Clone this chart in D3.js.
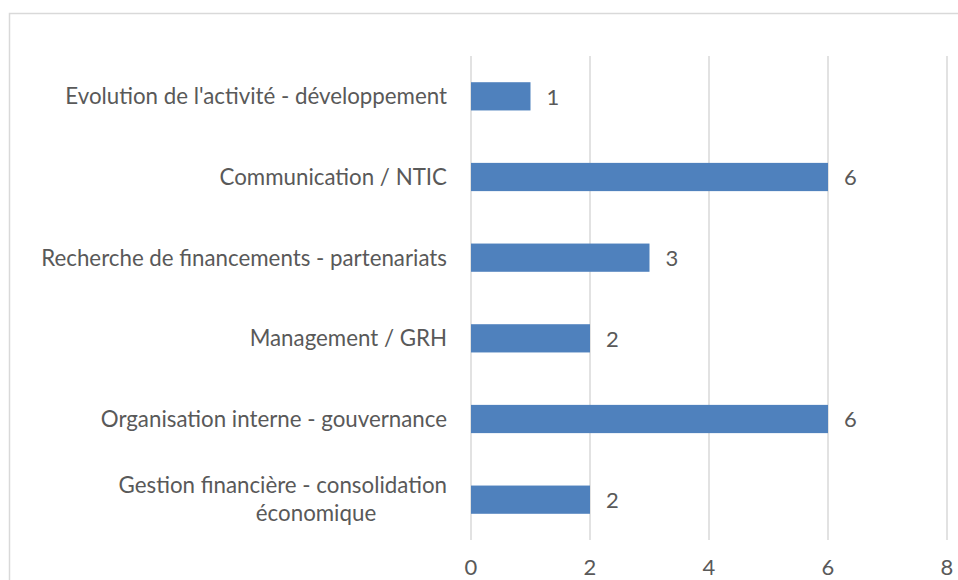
<!DOCTYPE html>
<html>
<head>
<meta charset="utf-8">
<title>Bar chart</title>
<script src="https://cdn.jsdelivr.net/npm/d3@7"></script>
<style>
  body { margin: 0; background: #fff; }
  text { font-family: Lato, "Open Sans", sans-serif; fill: #595959; }
</style>
</head>
<body>
<svg id="svg"></svg>
<script>
var WIDTH = 958;
var HEIGHT = 580;

// data, top to bottom
var categories = [
    ["Evolution de l'activité - développement"],
    ["Communication / NTIC"],
    ["Recherche de financements - partenariats"],
    ["Management / GRH"],
    ["Organisation interne - gouvernance"],
    ["Gestion financière - consolidation", "économique"]
];
var values = [1, 6, 3, 2, 6, 2];
var ticks = [0, 2, 4, 6, 8];

var svg = d3.select("#svg")
            .attr("width", WIDTH)
            .attr("height", HEIGHT);

// chart frame
svg.append("rect")
   .attr("x", 9.5).attr("y", 13.5)
   .attr("width", 960).attr("height", 600)
   .attr("fill", "none")
   .attr("stroke", "#d9d9d9")
   .attr("stroke-width", 1.5);

var xScale = d3.scaleLinear()
               .domain([0, 8])
               .range([471, 947]);
var yScale = d3.scaleBand()
               .domain(d3.range(categories.length))
               .range([56, 540])
               .paddingInner(0.65)
               .paddingOuter(0.325);

// gridlines
svg.selectAll("line.grid")
   .data(ticks)
   .enter()
   .append("line")
   .attr("class", "grid")
   .attr("x1", function(d){ return xScale(d); })
   .attr("x2", function(d){ return xScale(d); })
   .attr("y1", 56).attr("y2", 540)
   .attr("stroke", "#d9d9d9")
   .attr("stroke-width", 1.5);

// bars
svg.selectAll("rect.bar")
   .data(values)
   .enter()
   .append("rect")
   .attr("class", "bar")
   .attr("x", xScale(0))
   .attr("y", function(d, i){ return yScale(i); })
   .attr("width", function(d){ return xScale(d) - xScale(0); })
   .attr("height", yScale.bandwidth())
   .attr("fill", "#4f81bd");

// value labels
svg.selectAll("text.value")
   .data(values)
   .enter()
   .append("text")
   .attr("class", "value")
   .attr("x", function(d){ return xScale(d) + 16; })
   .attr("y", function(d, i){ return yScale(i) + yScale.bandwidth() / 2; })
   .attr("dy", "0.38em")
   .attr("font-size", "22px")
   .text(function(d){ return d; });

// category labels
var labels = svg.selectAll("text.cat")
   .data(categories)
   .enter()
   .append("text")
   .attr("class", "cat")
   .attr("font-size", "22.3px")
   .attr("y", function(d, i){ return yScale(i) + yScale.bandwidth() / 2; });

labels.each(function(lines){
    var t = d3.select(this);
    if (lines.length == 1) {
        t.append("tspan")
         .attr("x", 447)
         .attr("text-anchor", "end")
         .attr("dy", "0.36em")
         .text(lines[0]);
    } else {
        t.append("tspan")
         .attr("x", 447)
         .attr("text-anchor", "end")
         .attr("dy", "-0.28em")
         .text(lines[0]);
        t.append("tspan")
         .attr("x", 316)
         .attr("text-anchor", "middle")
         .attr("dy", "1.25em")
         .text(lines[1]);
    }
});

// x axis tick labels
svg.selectAll("text.tick")
   .data(ticks)
   .enter()
   .append("text")
   .attr("class", "tick")
   .attr("x", function(d){ return xScale(d); })
   .attr("y", 575)
   .attr("text-anchor", "middle")
   .attr("font-size", "22px")
   .text(function(d){ return d; });
</script>
</body>
</html>
